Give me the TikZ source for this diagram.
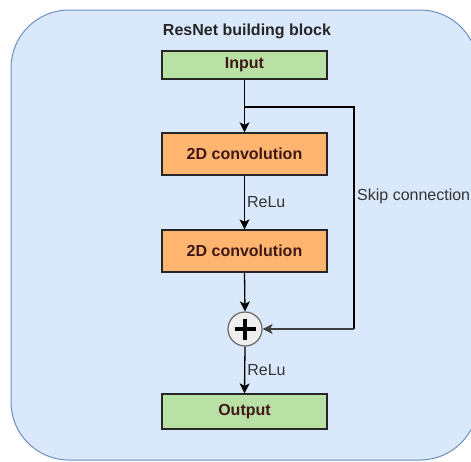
\documentclass[tikz,border=0pt]{standalone}
\usepackage{fontspec}
\setmainfont{Liberation Sans}
\usetikzlibrary{arrows.meta,calc}
\definecolor{bgfill}{HTML}{DAE8FC}
\definecolor{bgline}{HTML}{6C8EBF}
\definecolor{greenfill}{HTML}{B9E0A5}
\definecolor{orangefill}{HTML}{FFB570}
\definecolor{boxtext}{HTML}{3F1818}
\definecolor{labeltext}{HTML}{333333}
\definecolor{sumfill}{HTML}{EEEEEE}
\definecolor{sumline}{HTML}{666666}
\tikzset{
  base/.style={font=\fontsize{16}{19}\selectfont},
  blockbox/.style={base, draw=black!85, line width=1.3pt, minimum width=165pt,
    text=boxtext, font=\fontsize{16}{19}\selectfont\bfseries, inner sep=0pt},
  iobox/.style={blockbox, fill=greenfill, minimum height=28pt},
  convbox/.style={blockbox, fill=orangefill, minimum height=42pt},
  edgelabel/.style={base, text=labeltext, inner sep=0pt, anchor=west},
  flow/.style={line width=1.3pt, -{Stealth[length=10pt,width=10pt,inset=2.5pt]}},
  plainline/.style={line width=1.3pt},
}
\begin{document}
\begin{tikzpicture}[x=1pt,y=-1pt]
\useasboundingbox (0,0) rectangle (471,461);
% container
\begin{scope}
  \clip (0,0) rectangle (471,461);
  \draw[fill=bgfill, draw=bgline, line width=1pt, rounded corners=58pt]
    (11,10) rectangle (478,460);
\end{scope}
% nodes
\node[base, font=\fontsize{16}{19}\selectfont\bfseries, text=black!85] (title) at (247,31) {ResNet building block};
\node[iobox] (input) at (244.5,65) {Input};
\node[convbox] (conv1) at (244.5,154) {2D convolution};
\node[convbox] (conv2) at (244.5,251) {2D convolution};
\node[circle, draw=sumline, fill=sumfill, line width=1.2pt, minimum size=34pt, inner sep=0pt] (sum) at (245,329) {};
\node[iobox, minimum height=35pt] (output) at (244.5,411.5) {Output};
\draw[line width=3.2pt] ($(sum.center)+(-10.5,0)$) -- ($(sum.center)+(10.5,0)$);
\draw[line width=3.2pt] ($(sum.center)+(0,-10.5)$) -- ($(sum.center)+(0,10.5)$);
% connectors
\coordinate (split) at (input.south |- 0,107);
\coordinate (skiptop) at (354,107);
\coordinate (skipbot) at (354,329);
\draw[flow] (input.south) -- (conv1.north);
\draw[flow] (conv1.south) -- node[edgelabel, xshift=2pt] (relu1) {ReLu} (conv2.north);
\draw[flow] (conv2.south) -- (sum.north);
\draw[flow] (sum.south) -- node[edgelabel, xshift=2pt] (relu2) {ReLu} (output.north);
\draw[plainline] (split) -- (skiptop) -- (skipbot);
\draw[flow, draw=black!75] (skipbot) -- (sum.east);
\node[edgelabel] (skiplabel) at (357,196) {Skip connection};
\end{tikzpicture}
\end{document}
